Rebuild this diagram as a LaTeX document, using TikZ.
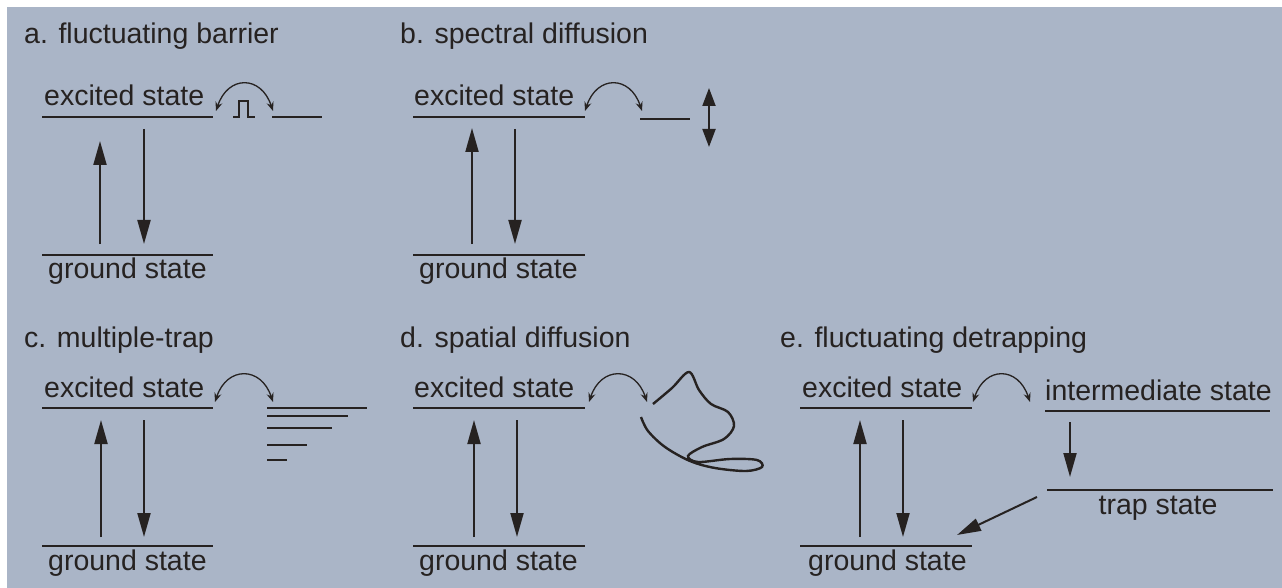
\documentclass[tikz,border=0pt]{standalone}
\usepackage{fontspec}
\setmainfont{Liberation Sans}
\usetikzlibrary{arrows.meta,calc}
\definecolor{bg}{RGB}{170,181,199}
\definecolor{ink}{RGB}{38,34,33}
\begin{document}
\begin{tikzpicture}[x=1pt,y=-1pt,
  lvl/.style={draw=ink,line width=2.4pt},
  txt/.style={font=\fontsize{28.5}{32}\selectfont,text=ink,inner sep=0pt,anchor=base west},
  trans/.style={draw=ink,line width=2pt,-{Triangle[length=24pt,width=13pt]}},
  hop/.style={draw=ink,line width=1.3pt,{Stealth[length=9pt,width=7pt]}-{Stealth[length=9pt,width=7pt]}},
  squig/.style={draw=ink,line width=2.4pt}
]
\useasboundingbox (0,0) rectangle (1282,588);
\fill[bg] (7,7) rectangle (1282,588);

% ---------- titles
\node[txt] (ta) at (24,44) {a. fluctuating barrier};
\node[txt] (tb) at (400,44) {b. spectral diffusion};
\node[txt] (tc) at (24,347) {c. multiple-trap};
\node[txt] (td) at (400,347) {d. spatial diffusion};
\node[txt] (te) at (780,347) {e. fluctuating detrapping};

% ---------- panel a
\node[txt] (a-ex) at (44,106) {excited state};
\node[txt] (a-gr) at (48,278) {ground state};
\coordinate (a-e1) at (42,117); \coordinate (a-e2) at (213,117);
\coordinate (a-g1) at (42,255); \coordinate (a-g2) at (213,255);
\draw[lvl] (a-e1) -- (a-e2);
\draw[lvl] (a-g1) -- (a-g2);
\coordinate (a-u0) at (100,244); \coordinate (a-u1) at (100,141);
\coordinate (a-d0) at (144,129); \coordinate (a-d1) at (144,244);
\draw[trans] (a-u0) -- (a-u1);
\draw[trans] (a-d0) -- (a-d1);
\coordinate (a-hL) at (216,111); \coordinate (a-hR) at (273,111);
\draw[hop] (a-hL) .. controls ($(a-hL)+(12,-36)$) and ($(a-hR)+(-12,-36)$) .. (a-hR);
\coordinate (a-b0) at (233,117); \coordinate (a-b1) at (255,117);
\draw[ink,line width=2pt] (a-b0) -- (239,117) -- (239,101) -- (248,101) -- (248,117) -- (a-b1);
\coordinate (a-s1) at (272,117); \coordinate (a-s2) at (322,117);
\draw[lvl] (a-s1) -- (a-s2);

% ---------- panel b
\node[txt] (b-ex) at (414,106) {excited state};
\node[txt] (b-gr) at (419,278) {ground state};
\coordinate (b-e1) at (413,117); \coordinate (b-e2) at (585,117);
\coordinate (b-g1) at (413,255); \coordinate (b-g2) at (585,255);
\draw[lvl] (b-e1) -- (b-e2);
\draw[lvl] (b-g1) -- (b-g2);
\coordinate (b-u0) at (472,244); \coordinate (b-u1) at (472,128);
\coordinate (b-d0) at (515,129); \coordinate (b-d1) at (515,244);
\draw[trans] (b-u0) -- (b-u1);
\draw[trans] (b-d0) -- (b-d1);
\coordinate (b-hL) at (585,111); \coordinate (b-hR) at (642,111);
\draw[hop] (b-hL) .. controls ($(b-hL)+(12,-36)$) and ($(b-hR)+(-12,-36)$) .. (b-hR);
\coordinate (b-s1) at (640,119); \coordinate (b-s2) at (690,119);
\draw[lvl] (b-s1) -- (b-s2);
\coordinate (b-v1) at (709,88); \coordinate (b-v2) at (709,147);
\draw[draw=ink,line width=2pt,{Triangle[length=18pt,width=13pt]}-{Triangle[length=18pt,width=13pt]}] (b-v1) -- (b-v2);

% ---------- panel c
\node[txt] (c-ex) at (44,397) {excited state};
\node[txt] (c-gr) at (48,570) {ground state};
\coordinate (c-e1) at (42,408); \coordinate (c-e2) at (213,408);
\coordinate (c-g1) at (42,546); \coordinate (c-g2) at (213,546);
\draw[lvl] (c-e1) -- (c-e2);
\draw[lvl] (c-g1) -- (c-g2);
\coordinate (c-u0) at (101,537); \coordinate (c-u1) at (101,420);
\coordinate (c-d0) at (144,420); \coordinate (c-d1) at (144,537);
\draw[trans] (c-u0) -- (c-u1);
\draw[trans] (c-d0) -- (c-d1);
\coordinate (c-hL) at (215,402); \coordinate (c-hR) at (273,402);
\draw[hop] (c-hL) .. controls ($(c-hL)+(12,-36)$) and ($(c-hR)+(-12,-36)$) .. (c-hR);
\draw[lvl] (267,408) -- (367,408);
\draw[lvl] (267,416) -- (348,416);
\draw[lvl] (267,428) -- (332,428);
\draw[lvl] (267,445) -- (307,445);
\draw[lvl] (267,460) -- (287,460);

% ---------- panel d
\node[txt] (d-ex) at (414,397) {excited state};
\node[txt] (d-gr) at (419,570) {ground state};
\coordinate (d-e1) at (413,408); \coordinate (d-e2) at (585,408);
\coordinate (d-g1) at (413,546); \coordinate (d-g2) at (585,546);
\draw[lvl] (d-e1) -- (d-e2);
\draw[lvl] (d-g1) -- (d-g2);
\coordinate (d-u0) at (474,537); \coordinate (d-u1) at (474,420);
\coordinate (d-d0) at (517,420); \coordinate (d-d1) at (517,537);
\draw[trans] (d-u0) -- (d-u1);
\draw[trans] (d-d0) -- (d-d1);
\coordinate (d-hL) at (589,402); \coordinate (d-hR) at (647,402);
\draw[hop] (d-hL) .. controls ($(d-hL)+(12,-36)$) and ($(d-hR)+(-12,-36)$) .. (d-hR);
\draw[squig] plot[smooth,tension=0.55] coordinates {
  (653,404) (672,388) (689,372) (699,390) (711,404) (728,412) (734,426)
  (724,439) (702,447) (688,456) (698,462) (730,459) (757,460) (762,467)
  (746,471) (715,468) (690,461) (665,447) (648,431) (641,417)};

% ---------- panel e
\node[txt] (e-ex) at (802,397) {excited state};
\node[txt] (e-gr) at (808,570) {ground state};
\node[txt] (e-im) at (1045,400) {intermediate state};
\node[txt,anchor=base] (e-tr) at (1158,514) {trap state};
\coordinate (e-e1) at (800,408); \coordinate (e-e2) at (972,408);
\coordinate (e-g1) at (800,546); \coordinate (e-g2) at (972,546);
\coordinate (e-i1) at (1045,411); \coordinate (e-i2) at (1270,411);
\coordinate (e-t1) at (1047,490); \coordinate (e-t2) at (1273,490);
\draw[lvl] (e-e1) -- (e-e2);
\draw[lvl] (e-g1) -- (e-g2);
\draw[lvl] (e-i1) -- (e-i2);
\draw[lvl] (e-t1) -- (e-t2);
\coordinate (e-u0) at (860,537); \coordinate (e-u1) at (860,420);
\coordinate (e-d0) at (903,420); \coordinate (e-d1) at (903,537);
\draw[trans] (e-u0) -- (e-u1);
\draw[trans] (e-d0) -- (e-d1);
\coordinate (e-hL) at (973,402); \coordinate (e-hR) at (1030,402);
\draw[hop] (e-hL) .. controls ($(e-hL)+(12,-36)$) and ($(e-hR)+(-12,-36)$) .. (e-hR);
\coordinate (e-id0) at (1070,422); \coordinate (e-id1) at (1070,477);
\draw[trans] (e-id0) -- (e-id1);
\coordinate (e-tg0) at (1037,497); \coordinate (e-tg1) at (957,535);
\draw[trans] (e-tg0) -- (e-tg1);
\end{tikzpicture}
\end{document}
